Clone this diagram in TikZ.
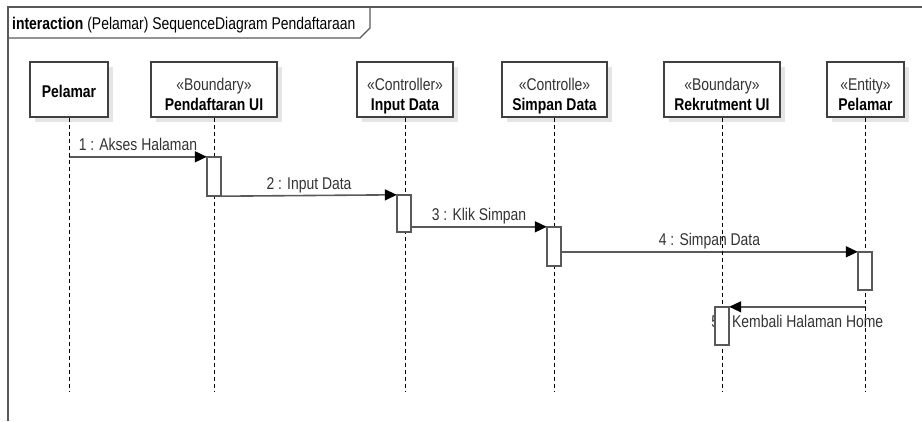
\documentclass[tikz,border=0pt]{standalone}
\usepackage{fontspec}
\setmainfont{Liberation Sans}[FakeStretch=0.82]
\usetikzlibrary{arrows.meta,shadows}
\begin{document}
\begin{tikzpicture}[x=1pt,y=-1pt,
  every node/.style={font=\fontsize{17}{20}\selectfont, inner sep=0pt},
  frameline/.style={draw=black!65, line width=1.3pt},
  partbox/.style={draw=black!75, line width=1.3pt, fill=white, minimum height=55pt,
    drop shadow={shadow xshift=5pt, shadow yshift=-5pt, fill=black!10, opacity=1}},
  stereo/.style={anchor=base, text=black!80},
  pname/.style={anchor=base, font=\fontsize{17}{20}\selectfont\bfseries},
  lifeline/.style={draw=black, line width=0.9pt, dash pattern=on 4pt off 3pt},
  actshape/.style={minimum width=14pt, minimum height=38pt, draw=none},
  actpaint/.style={draw=black!65, line width=1.5pt, fill=white},
  msg/.style={draw=black!65, line width=1.6pt, -{Triangle[length=12pt,width=11pt,color=black]}},
  lblabove/.style={midway, anchor=base, yshift=6pt, text=black!80},
  lblbelow/.style={midway, anchor=base, yshift=-21pt, text=black!80}
]
\useasboundingbox (0,0) rectangle (922,421);

% interaction frame and its name tab
\draw[frameline] (8,421) -- (8,7) -- (922,7);
\draw[frameline] (8,38) -- (360,38) -- (370,28) -- (370,7);
\node[anchor=base west] (title) at (12,29)
  {\textbf{interaction} (Pelamar) SequenceDiagram Pendaftaraan};

% participants
\node[partbox, minimum width=78pt]  (pel) at (69,89.5)  {};
\node[partbox, minimum width=126pt] (pui) at (214,89.5) {};
\node[partbox, minimum width=96pt]  (inp) at (405,89.5) {};
\node[partbox, minimum width=105pt] (sim) at (554.5,89.5) {};
\node[partbox, minimum width=116pt] (rek) at (722,89.5) {};
\node[partbox, minimum width=77pt]  (ent) at (865.5,89.5) {};

\node[pname] (pelN) at (69,97) {Pelamar};
\node[stereo] (puiS) at (214,90) {«Boundary»};
\node[pname]  (puiN) at (214,110) {Pendaftaran UI};
\node[stereo] (inpS) at (405,90) {«Controller»};
\node[pname]  (inpN) at (405,110) {Input Data};
\node[stereo] (simS) at (554.5,90) {«Controlle»};
\node[pname]  (simN) at (554.5,110) {Simpan Data};
\node[stereo] (rekS) at (722,90) {«Boundary»};
\node[pname]  (rekN) at (722,110) {Rekrutment UI};
\node[stereo] (entS) at (865.5,90) {«Entity»};
\node[pname]  (entN) at (865.5,110) {Pelamar};

% activation bars (placed first, painted last)
\node[actshape, minimum height=39pt] (a1) at (214,176.5) {};
\node[actshape, minimum height=37pt] (a2) at (404,213.5) {};
\node[actshape, minimum height=39pt] (a3) at (554,246.5) {};
\node[actshape, minimum height=38pt] (a4) at (865,271) {};
\node[actshape, minimum height=38pt] (a5) at (722,326) {};

% messages
\draw[msg] (pel.south |- a1.north west) -- node[lblabove] {1 : Akses Halaman} (a1.north west);
\draw[msg] (a1.south east) -- node[lblabove] {2 : Input Data} (a2.north west);
\draw[msg] (a2.east |- a3.north west) -- node[lblabove] {3 : Klik Simpan} (a3.north west);
\draw[msg] (a3.east |- a4.north west) -- node[lblabove] {4 : Simpan Data} (a4.north west);
\draw[msg] (ent.south |- a5.north east) -- node[lblbelow] {5 : Kembali Halaman Home} (a5.north east);

% lifelines
\coordinate (lifeEnd) at (0,392);
\foreach \p in {pel,pui,inp,sim,rek,ent}
  \draw[lifeline] (\p.south) -- (\p.south |- lifeEnd);

% activation bars
\foreach \a in {a1,a2,a3,a4,a5}
  \draw[actpaint] (\a.south west) rectangle (\a.north east);
\end{tikzpicture}
\end{document}
